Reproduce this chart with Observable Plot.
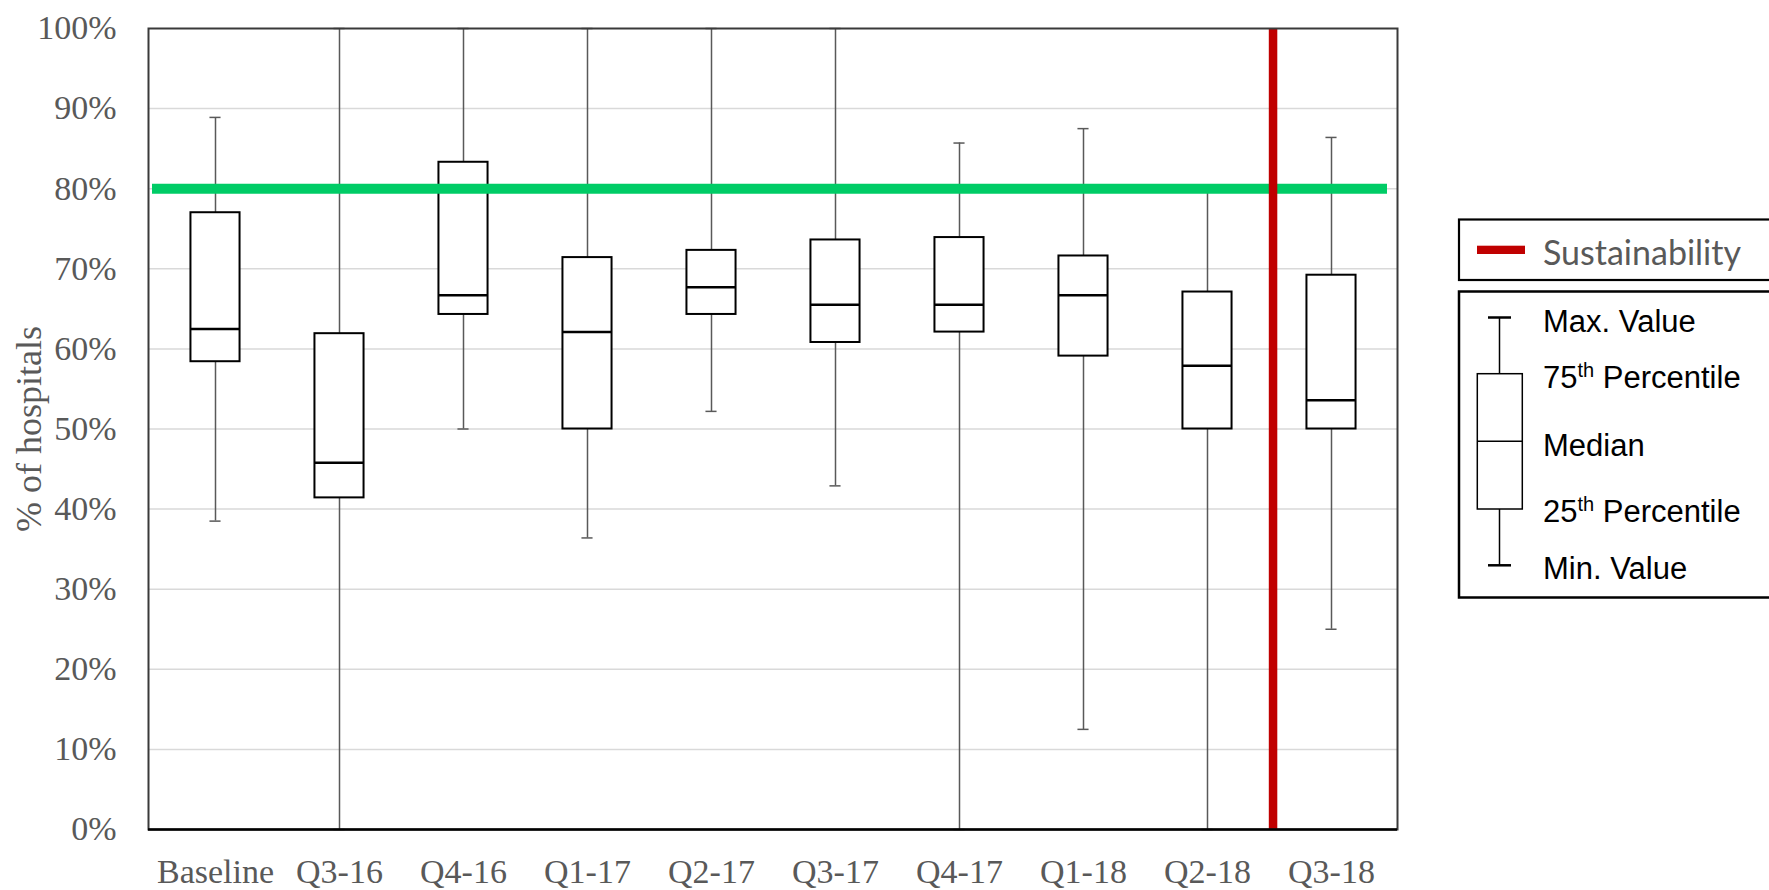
<!DOCTYPE html>
<html><head><meta charset="utf-8">
<script src="https://cdn.jsdelivr.net/npm/d3@7"></script>
<script src="https://cdn.jsdelivr.net/npm/@observablehq/plot@0.6"></script>
<style>
html,body{margin:0;padding:0;background:#fff;overflow:hidden}
#wrap{position:relative;width:1769px;height:890px;background:#fff}
#legend{position:absolute;left:0;top:0;pointer-events:none}
</style></head><body><div id="wrap"></div>
<script>
const categories = ["Baseline","Q3-16","Q4-16","Q1-17","Q2-17","Q3-17","Q4-17","Q1-18","Q2-18","Q3-18"];
const minValues    = [38.5, 0,    50.0, 36.4, 52.2, 42.9, 0,    12.5, 0,    25.0];
const q1Values     = [58.4, 41.4, 64.3, 50.0, 64.3, 60.8, 62.1, 59.1, 50.0, 50.0];
const medianValues = [62.5, 45.8, 66.7, 62.1, 67.7, 65.5, 65.5, 66.7, 57.9, 53.6];
const q3Values     = [77.0, 61.9, 83.3, 71.4, 72.3, 73.6, 73.9, 71.6, 67.1, 69.2];
const maxValues    = [88.9, 100,  100,  100,  100,  100,  85.7, 87.5, 80.0, 86.4];
const yTicks = [0,10,20,30,40,50,60,70,80,90,100];
const gridValues = [10,20,30,40,50,60,70,80,90];
const target = 80;
const sustainabilityStart = "Q3-18";
const yLabel = "% of hospitals";
const legendTitle = "Sustainability";
const legendItems = ["Max. Value", "75|th| Percentile", "Median", "25|th| Percentile", "Min. Value"];

const data = categories.map((c, i) => ({
  category: c, min: minValues[i], q1: q1Values[i], median: medianValues[i], q3: q3Values[i], max: maxValues[i]
}));

const W = 1769, H = 890, mL = 148, mR = 372, mT = 28, mB = 61;
const band = (W - mL - mR) / categories.length;
const boxInset = (band - 50) / 2;
const capInset = (band - 12) / 2;

const chart = Plot.plot({
  width: W, height: H,
  marginLeft: mL, marginRight: mR, marginTop: mT, marginBottom: mB,
  style: {fontFamily: "'Liberation Serif', 'Times New Roman', serif", fontSize: "34px", color: "#595959", background: "white"},
  x: {type: "band", domain: categories, padding: 0, tickSize: 0, tickPadding: 29, label: null},
  y: {domain: [0, 100], ticks: yTicks, tickFormat: d => d + "%", tickSize: 0, tickPadding: 32, label: null},
  marks: [
    Plot.ruleY(gridValues, {stroke: "#d9d9d9", strokeWidth: 1.5}),
    Plot.ruleX(data, {x: "category", y1: "min", y2: "max", stroke: "#595959", strokeWidth: 1.5}),
    Plot.tickY(data, {x: "category", y: "min", stroke: "#595959", strokeWidth: 1.5, insetLeft: capInset, insetRight: capInset}),
    Plot.tickY(data, {x: "category", y: "max", stroke: "#595959", strokeWidth: 1.5, insetLeft: capInset, insetRight: capInset}),
    Plot.barY(data, {x: "category", y1: "q1", y2: "q3", fill: "white", stroke: "black", strokeWidth: 2, insetLeft: boxInset, insetRight: boxInset}),
    Plot.tickY(data, {x: "category", y: "median", stroke: "black", strokeWidth: 2.5, insetLeft: boxInset, insetRight: boxInset}),
    Plot.ruleY([target], {stroke: "#00cc66", strokeWidth: 10, insetLeft: 4, insetRight: 10}),
    Plot.ruleX([sustainabilityStart], {dx: -band / 2 + 4, stroke: "#c00000", strokeWidth: 8.5}),
    Plot.frame({stroke: "#3a3a3a", strokeWidth: 2}),
    Plot.ruleY([0], {stroke: "black", strokeWidth: 2.5}),
    Plot.text([yLabel], {frameAnchor: "left", dx: -119, rotate: -90, textAnchor: "middle", lineAnchor: "middle", fontSize: 36, fill: "#595959"})
  ]
});
const wrap = document.getElementById("wrap");
wrap.appendChild(chart);

// Legend (drawn to the right of the plot)
const lg = d3.select(wrap).append("svg").attr("id", "legend").attr("width", W).attr("height", H);
lg.append("rect").attr("x", 1459).attr("y", 219.5).attr("width", 400).attr("height", 60.5)
  .attr("fill", "white").attr("stroke", "black").attr("stroke-width", 2.2);
lg.append("rect").attr("x", 1477).attr("y", 245.7).attr("width", 48).attr("height", 8.3).attr("fill", "#c00000");
lg.append("text").attr("x", 1543).attr("y", 265).attr("font-family", "Lato, 'Open Sans', sans-serif")
  .attr("font-size", 34).attr("fill", "#595959").text(legendTitle);

lg.append("rect").attr("x", 1459).attr("y", 291.5).attr("width", 400).attr("height", 306)
  .attr("fill", "white").attr("stroke", "black").attr("stroke-width", 2.5);
const g = lg.append("g").attr("stroke", "black").attr("fill", "none");
g.append("line").attr("x1", 1488).attr("x2", 1511).attr("y1", 317.5).attr("y2", 317.5).attr("stroke-width", 2.5);
g.append("line").attr("x1", 1499.5).attr("x2", 1499.5).attr("y1", 317.5).attr("y2", 373.7).attr("stroke-width", 1.5);
g.append("rect").attr("x", 1477.3).attr("y", 373.7).attr("width", 45).attr("height", 135.3).attr("stroke-width", 1.5);
g.append("line").attr("x1", 1477.3).attr("x2", 1522.3).attr("y1", 441.3).attr("y2", 441.3).attr("stroke-width", 1.5);
g.append("line").attr("x1", 1499.5).attr("x2", 1499.5).attr("y1", 509).attr("y2", 565.3).attr("stroke-width", 1.5);
g.append("line").attr("x1", 1488).attr("x2", 1511).attr("y1", 565.3).attr("y2", 565.3).attr("stroke-width", 2.5);

const baselines = [331.7, 388.3, 456.4, 521.7, 579.3];
legendItems.forEach((s, i) => {
  const t = lg.append("text").attr("x", 1543).attr("y", baselines[i])
    .attr("font-family", "'Liberation Sans', Arial, sans-serif").attr("font-size", 31).attr("fill", "black");
  const parts = s.split("|");
  if (parts.length === 3) {
    t.append("tspan").text(parts[0]);
    t.append("tspan").attr("font-size", 20).attr("dy", -11).text(parts[1]);
    t.append("tspan").attr("dy", 11).text(parts[2]);
  } else {
    t.text(s);
  }
});
</script></body></html>
